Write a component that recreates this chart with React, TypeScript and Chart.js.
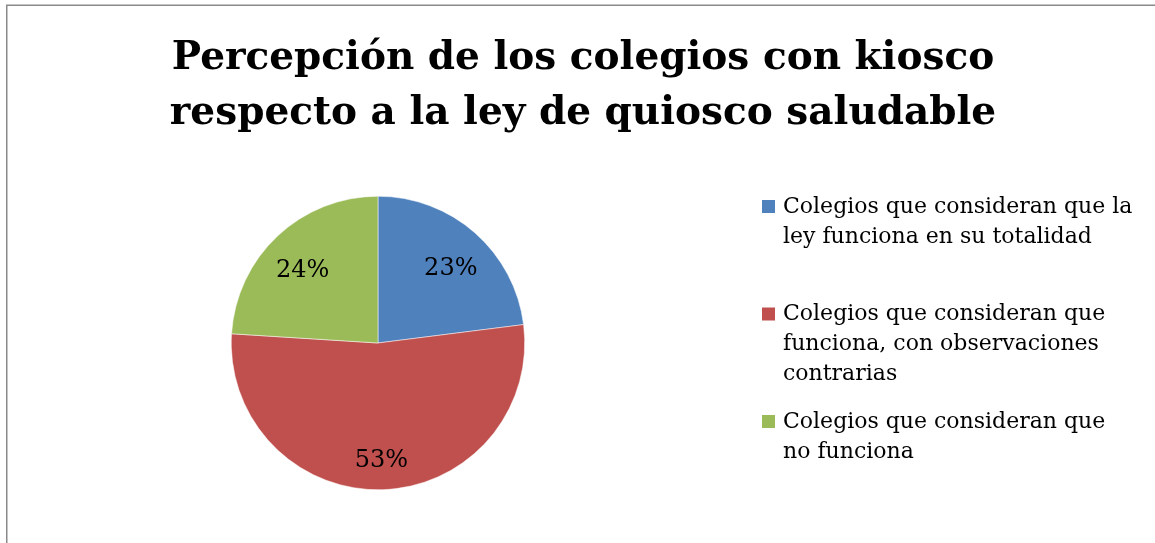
import React, { useEffect, useRef } from "react";
import { Chart, registerables } from "chart.js";

Chart.register(...registerables);

const titleLines = [
  "Percepción de los colegios con kiosco",
  "respecto a la ley de quiosco saludable",
];
const categories = [
  ["Colegios que consideran que la", "ley funciona en su totalidad"],
  ["Colegios que consideran que", "funciona, con observaciones", "contrarias"],
  ["Colegios que consideran que", "no funciona"],
];
const values = [23, 53, 24];
const colors = ["#4F81BD", "#C0504D", "#9BBB59"];

const SERIF = "'DejaVu Serif', 'Liberation Serif', serif";

const decorPlugin = {
  id: "decor",
  beforeDraw(chart: any) {
    const ctx = chart.ctx;
    ctx.save();
    ctx.fillStyle = "#ffffff";
    ctx.fillRect(0, 0, chart.width, chart.height);
    ctx.strokeStyle = "#8a8a8a";
    ctx.lineWidth = 1.5;
    ctx.strokeRect(6.75, 5.25, chart.width + 50, chart.height + 50);
    ctx.restore();
  },
  afterDraw(chart: any) {
    const ctx = chart.ctx;
    ctx.save();
    // title
    ctx.fillStyle = "#000000";
    ctx.font = `bold 39px ${SERIF}`;
    ctx.textAlign = "center";
    ctx.textBaseline = "middle";
    titleLines.forEach((t, i) => ctx.fillText(t, 583, 59 + i * 55));

    // data labels
    const meta = chart.getDatasetMeta(0);
    ctx.font = `24px ${SERIF}`;
    const total = values.reduce((a, b) => a + b, 0);
    meta.data.forEach((arc: any, i: number) => {
      const p = arc.getProps(["x", "y", "startAngle", "endAngle", "outerRadius"], true);
      const mid = (p.startAngle + p.endAngle) / 2;
      const r = p.outerRadius * 0.75;
      const x = p.x + Math.cos(mid) * r;
      const y = p.y + Math.sin(mid) * r + 8;
      ctx.fillText(Math.round((values[i] / total) * 100) + "%", x, y);
    });

    // legend
    ctx.textAlign = "left";
    ctx.font = `22px ${SERIF}`;
    categories.forEach((lines, i) => {
      const y0 = 207 + i * 107.5;
      ctx.fillStyle = colors[i];
      ctx.fillRect(762, y0 - 7, 13, 13);
      ctx.fillStyle = "#000000";
      lines.forEach((l, j) => ctx.fillText(l, 783, y0 + j * 30));
    });
    ctx.restore();
  },
};

export default function App() {
  const ref = useRef<HTMLCanvasElement>(null);
  useEffect(() => {
    if (!ref.current) return;
    const chart = new Chart(ref.current, {
      type: "pie",
      data: {
        labels: categories.map((c) => c.join(" ")),
        datasets: [
          {
            data: values,
            backgroundColor: colors,
            borderColor: "#ffffff",
            borderWidth: 0.5,
          },
        ],
      },
      options: {
        responsive: false,
        animation: false,
        layout: { padding: { top: 196, left: 231, right: 630, bottom: 53 } },
        plugins: {
          legend: { display: false },
          title: { display: false },
          tooltip: { enabled: false },
        },
      },
      plugins: [decorPlugin],
    });
    return () => chart.destroy();
  }, []);
  return (
    <div style={{ position: "fixed", left: 0, top: 0, width: 1155, height: 543 }}>
      <canvas ref={ref} width={1155} height={543} />
    </div>
  );
}
